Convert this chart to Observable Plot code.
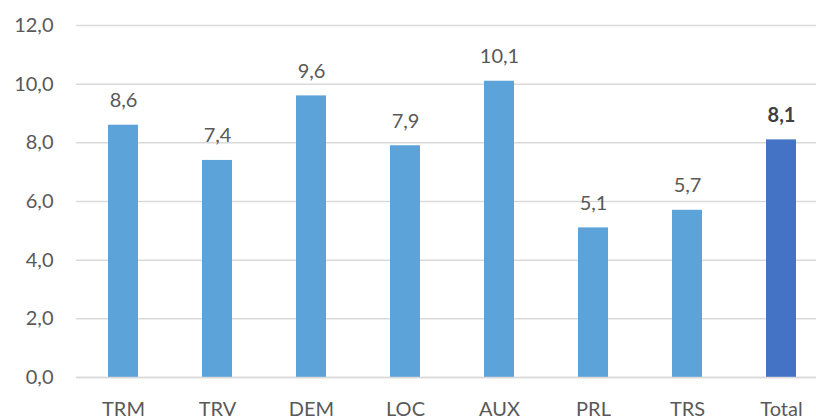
<!DOCTYPE html>
<html>
<head>
<meta charset="utf-8">
<script src="https://cdn.jsdelivr.net/npm/d3@7"></script>
<script src="https://cdn.jsdelivr.net/npm/@observablehq/plot@0.6"></script>
<style>
  html, body { margin: 0; padding: 0; background: #fff; }
  #chart svg { display: block; }
</style>
</head>
<body>
<div id="chart"></div>
<script>
const categories = ["TRM", "TRV", "DEM", "LOC", "AUX", "PRL", "TRS", "Total"];
const values = [8.6, 7.4, 9.6, 7.9, 10.1, 5.1, 5.7, 8.1];
const yTicks = [0, 2, 4, 6, 8, 10, 12];

const data = categories.map((c, i) => ({ cat: c, value: values[i], total: c === "Total" }));
const fmt = d => d.toFixed(1).replace(".", ",");
const font = "Lato, 'Open Sans', sans-serif";

const chart = Plot.plot({
  width: 816,
  height: 419,
  marginTop: 25,
  marginBottom: 42,
  marginLeft: 76,
  marginRight: 0,
  style: { fontFamily: font, fontSize: "20px", color: "#595959", background: "#fff" },
  x: { domain: categories, range: [76, 829], paddingInner: 0.68, paddingOuter: 0.34, label: null },
  y: { domain: [0, 12], ticks: yTicks, label: null },
  marks: [
    Plot.ruleY(yTicks, { stroke: "#d9d9d9", strokeWidth: 1.5 }),
    Plot.barY(data, { x: "cat", y: "value", fill: d => d.total ? "#4472C4" : "#5BA3D8" }),
    Plot.ruleY([0], { stroke: "#d9d9d9", strokeWidth: 1.5 }),
    Plot.text(data.filter(d => !d.total), {
      x: "cat", y: "value", text: d => fmt(d.value),
      lineAnchor: "bottom", dy: -18, fontSize: 20, fill: "#595959"
    }),
    Plot.text(data.filter(d => d.total), {
      x: "cat", y: "value", text: d => fmt(d.value),
      lineAnchor: "bottom", dy: -18, fontSize: 20, fill: "#404040", fontWeight: "bold"
    }),
    Plot.axisY({ ticks: yTicks, tickFormat: fmt, tickSize: 0, tickPadding: 23, fontSize: 20, fill: "#595959", label: null }),
    Plot.axisX({ tickSize: 0, tickPadding: 24, fontSize: 20, fill: "#595959", label: null })
  ]
});
document.getElementById("chart").appendChild(chart);
</script>
</body>
</html>
